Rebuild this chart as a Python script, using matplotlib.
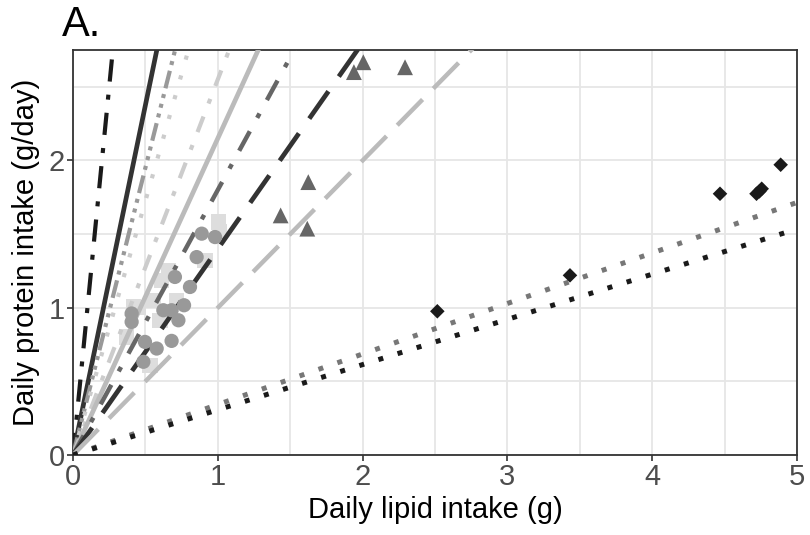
import numpy as np
import matplotlib
matplotlib.use('Agg')
import matplotlib.pyplot as plt

plt.rcParams['font.family'] = ['Liberation Sans', 'DejaVu Sans']
plt.rcParams['lines.scale_dashes'] = False

# fitted ratios (protein / lipid), one line per group, through the origin
slopes = [10.0, 4.75, 3.9, 3.45, 2.55, 2.15, 1.8, 1.4, 1.0, 0.343, 0.307]
line_colors = ['#1a1a1a', '#333333', '#999999', '#cccccc', '#cccccc', '#bbbbbb',
               '#666666', '#333333', '#bbbbbb', '#777777', '#1a1a1a']
line_dashes = [(16, 9.5, 3.6, 9.5), None, (13, 4.3, 2.9, 4.3, 2.9, 4.3, 2.9, 4.3),
               (3, 11.8), (12, 10, 3.6, 10), None, (16, 11, 3.6, 11),
               (24, 13), (26, 11), (3.6, 10.8), (3.6, 10.8)]
line_widths = [3.0, 3.4, 3.0, 3.0, 3.0, 3.4, 3.2, 3.4, 3.2, 3.6, 3.6]

# observed intakes
sq_lipid = [1.004, 1.01, 0.912, 0.612, 0.555, 0.716, 0.601, 0.416, 0.371, 0.532, 0.66, 0.45]
sq_protein = [1.582, 1.52, 1.322, 1.186, 1.051, 1.051, 0.915, 1.005, 0.802, 0.61, 1.25, 1.0]

circ_lipid = [0.889, 0.981, 0.854, 0.704, 0.808, 0.767, 0.624, 0.681, 0.728,
              0.405, 0.405, 0.497, 0.578, 0.681, 0.486]
circ_protein = [1.503, 1.48, 1.344, 1.209, 1.141, 1.017, 0.983, 0.983, 0.915,
                0.961, 0.904, 0.768, 0.723, 0.775, 0.633]

tri_lipid = [1.625, 1.434, 1.618, 2.005, 1.94, 2.293]
tri_protein = [1.853, 1.627, 1.537, 2.667, 2.60, 2.633]

dia_lipid = [2.516, 3.432, 4.468, 4.72, 4.756, 4.74, 4.887]
dia_protein = [0.976, 1.22, 1.774, 1.774, 1.808, 1.79, 1.971]

fig = plt.figure(figsize=(8.1, 5.35), dpi=100)
ax = fig.add_axes([0.0901, 0.1495, 0.8939, 0.757])

ax.scatter(sq_lipid, sq_protein, marker='s', s=120, color='#dddddd',
           edgecolor='none', zorder=2)

xx = np.array([0.0, 5.0])
for k, c, d, w in zip(slopes, line_colors, line_dashes, line_widths):
    ln, = ax.plot(xx, k * xx, color=c, lw=w, solid_capstyle='butt', zorder=3)
    if d is not None:
        ln.set_dashes(d)
        ln.set_dash_capstyle('butt')

ax.scatter(circ_lipid, circ_protein, marker='o', s=105, color='#999999',
           edgecolor='none', zorder=4)
ax.scatter(tri_lipid, tri_protein, marker='^', s=130, color='#666666',
           edgecolor='none', zorder=4)
ax.scatter(dia_lipid, dia_protein, marker='D', s=55, color='#1a1a1a',
           edgecolor='none', zorder=4)

ax.set_xlim(0, 5)
ax.set_ylim(0, 2.75)
ax.set_xticks([0, 1, 2, 3, 4, 5])
ax.set_yticks([0, 1, 2])
ax.set_xticks(np.arange(0.5, 5, 1), minor=True)
ax.set_yticks([0.5, 1.5, 2.5], minor=True)
ax.grid(True, which='both', color='#e6e6e6', lw=1.3, zorder=0)
ax.set_axisbelow(True)
ax.tick_params(which='major', direction='out', length=4, width=1.2,
               color='#333333', labelsize=21, labelcolor='#4d4d4d', pad=2)
ax.tick_params(which='minor', length=0)
for s in ax.spines.values():
    s.set_color('#333333')
    s.set_linewidth(1.3)

ax.set_xlabel('Daily lipid intake (g)', fontsize=21, labelpad=3)
ax.set_ylabel('Daily protein intake (g/day)', fontsize=21, labelpad=6)
fig.text(0.076, 0.915, 'A.', fontsize=30, ha='left', va='bottom')

fig.savefig('out.png', dpi=100)
